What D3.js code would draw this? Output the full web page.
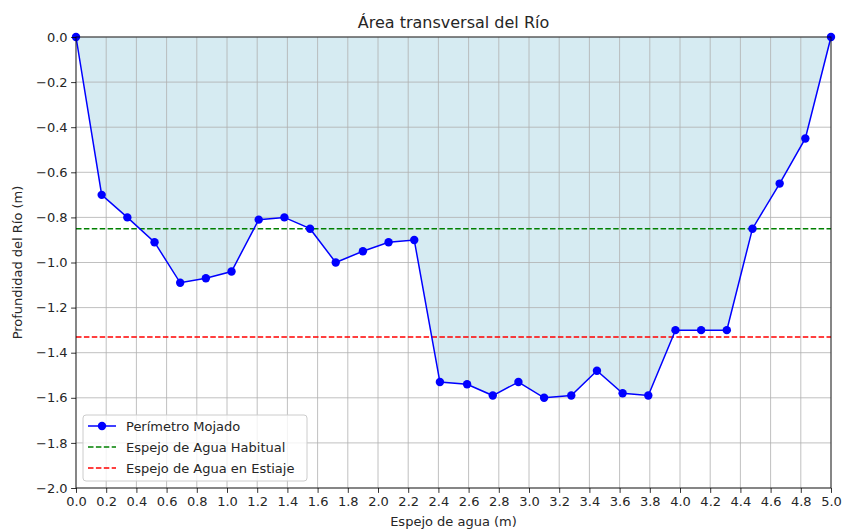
<!DOCTYPE html>
<html>
<head>
<meta charset="utf-8">
<script src="https://cdn.jsdelivr.net/npm/d3@7"></script>
<style>
  body { margin: 0; background: #fff; }
  text { font-family: "DejaVu Sans", sans-serif; fill: #262626; }
</style>
</head>
<body>
<div id="chart"></div>
<script>
// cross-section data
var xPos = [0.0, 0.17, 0.34, 0.52, 0.69, 0.86, 1.03, 1.21, 1.38, 1.55,
            1.72, 1.90, 2.07, 2.24, 2.41, 2.59, 2.76, 2.93, 3.10, 3.28,
            3.45, 3.62, 3.79, 3.97, 4.14, 4.31, 4.48, 4.66, 4.83, 5.0];
var depth = [0.0, -0.70, -0.80, -0.91, -1.09, -1.07, -1.04, -0.81, -0.80, -0.85,
             -1.00, -0.95, -0.91, -0.90, -1.53, -1.54, -1.59, -1.53, -1.60, -1.59,
             -1.48, -1.58, -1.59, -1.30, -1.30, -1.30, -0.85, -0.65, -0.45, 0.0];
var levelHabitual = -0.85;
var levelEstiaje = -1.33;
var xTicks = d3.range(0, 26).map(function (i) { return i / 5; });
var yTicks = d3.range(0, 11).map(function (i) { return -i / 5; });

var w = 844, h = 532;
var m = {left: 76, right: 13, top: 37, bottom: 44};

var svg = d3.select("#chart").append("svg")
  .attr("width", w).attr("height", h);

var x = d3.scaleLinear().domain([0, 5]).range([m.left, w - m.right]);
var y = d3.scaleLinear().domain([-2, 0]).range([h - m.bottom, m.top]);

var pts = xPos.map(function (v, i) { return {x: v, y: depth[i]}; });

// fill between 0 and profile
svg.append("path")
  .datum(pts)
  .attr("fill", "lightblue")
  .attr("fill-opacity", 0.5)
  .attr("d", d3.area().x(function (d) { return x(d.x); })
    .y0(y(0)).y1(function (d) { return y(d.y); }));

// grid
svg.append("g").selectAll("line").data(xTicks).enter().append("line")
  .attr("x1", function (d) { return x(d); }).attr("x2", function (d) { return x(d); })
  .attr("y1", y(0)).attr("y2", y(-2))
  .attr("stroke", "#b0b0b0").attr("stroke-width", 0.8);
svg.append("g").selectAll("line").data(yTicks).enter().append("line")
  .attr("y1", function (d) { return y(d); }).attr("y2", function (d) { return y(d); })
  .attr("x1", x(0)).attr("x2", x(5))
  .attr("stroke", "#b0b0b0").attr("stroke-width", 0.8);

// reference levels
svg.append("line")
  .attr("x1", x(0)).attr("x2", x(5))
  .attr("y1", y(levelHabitual)).attr("y2", y(levelHabitual))
  .attr("stroke", "green").attr("stroke-width", 1.5).attr("stroke-dasharray", "5.5,2.4");
svg.append("line")
  .attr("x1", x(0)).attr("x2", x(5))
  .attr("y1", y(levelEstiaje)).attr("y2", y(levelEstiaje))
  .attr("stroke", "red").attr("stroke-width", 1.5).attr("stroke-dasharray", "5.5,2.4");

// profile line + markers
svg.append("path")
  .datum(pts)
  .attr("fill", "none").attr("stroke", "blue").attr("stroke-width", 1.5)
  .attr("d", d3.line().x(function (d) { return x(d.x); }).y(function (d) { return y(d.y); }));
svg.append("g").selectAll("circle").data(pts).enter().append("circle")
  .attr("cx", function (d) { return x(d.x); })
  .attr("cy", function (d) { return y(d.y); })
  .attr("r", 4.2).attr("fill", "blue");

// axes
var xAxis = d3.axisBottom(x).tickValues(xTicks).tickFormat(d3.format(".1f")).tickSize(4.9).tickPadding(3.5);
var yAxis = d3.axisLeft(y).tickValues(yTicks).tickFormat(function (d) {
  return d3.format(".1f")(d).replace("-", "\u2212");
}).tickSize(4.9).tickPadding(3.5);

var gx = svg.append("g").attr("transform", "translate(0," + y(-2) + ")").call(xAxis);
var gy = svg.append("g").attr("transform", "translate(" + x(0) + ",0)").call(yAxis);
[gx, gy].forEach(function (g) {
  g.select(".domain").remove();
  g.selectAll(".tick line").attr("stroke", "#000").attr("stroke-width", 0.8);
  g.selectAll(".tick text").style("font-size", "13px").style("fill", "#262626");
});

// frame
svg.append("rect")
  .attr("x", x(0)).attr("y", y(0))
  .attr("width", x(5) - x(0)).attr("height", y(-2) - y(0))
  .attr("fill", "none").attr("stroke", "#000").attr("stroke-width", 0.8);

// titles
svg.append("text").attr("x", (x(0) + x(5)) / 2).attr("y", 28)
  .attr("text-anchor", "middle").style("font-size", "16px")
  .text("\u00c1rea transversal del R\u00edo");
svg.append("text").attr("x", (x(0) + x(5)) / 2).attr("y", 526)
  .attr("text-anchor", "middle").style("font-size", "13px")
  .text("Espejo de agua (m)");
svg.append("text")
  .attr("transform", "translate(22," + ((y(0) + y(-2)) / 2) + ") rotate(-90)")
  .attr("text-anchor", "middle").style("font-size", "13px")
  .text("Profundidad del R\u00edo (m)");

// legend
var legItems = [
  {label: "Per\u00edmetro Mojado", color: "blue", dash: null, marker: true},
  {label: "Espejo de Agua Habitual", color: "green", dash: "5.5,2.4", marker: false},
  {label: "Espejo de Agua en Estiaje", color: "red", dash: "5.5,2.4", marker: false}
];
var lg = svg.append("g").attr("transform", "translate(83,415)");
lg.append("rect").attr("width", 224).attr("height", 66).attr("rx", 3)
  .attr("fill", "#fff").attr("fill-opacity", 0.8)
  .attr("stroke", "#ccc").attr("stroke-width", 1);
legItems.forEach(function (d, i) {
  var yy = 11 + i * 21;
  lg.append("line").attr("x1", 5).attr("x2", 33).attr("y1", yy).attr("y2", yy)
    .attr("stroke", d.color).attr("stroke-width", 1.5)
    .attr("stroke-dasharray", d.dash);
  if (d.marker) lg.append("circle").attr("cx", 19).attr("cy", yy).attr("r", 4.2).attr("fill", d.color);
  lg.append("text").attr("x", 43).attr("y", yy + 4.5).style("font-size", "13px").text(d.label);
});
</script>
</body>
</html>
